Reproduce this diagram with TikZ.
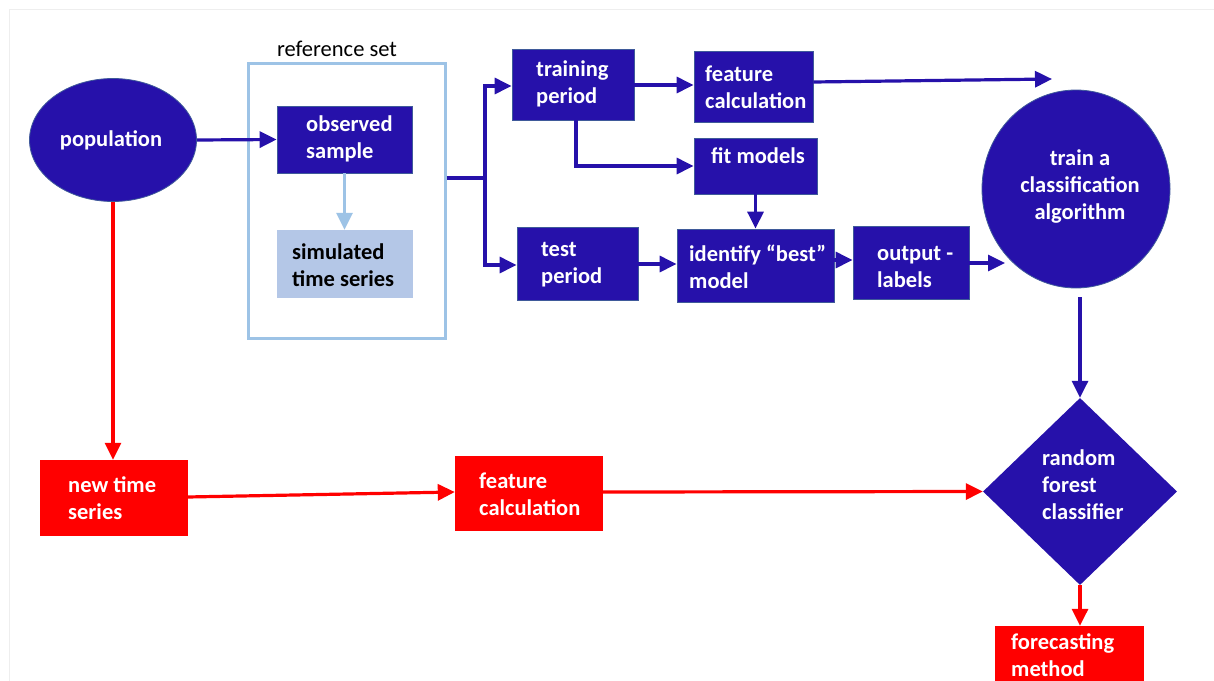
\documentclass[tikz,border=0pt]{standalone}
\usepackage{fontspec}
\setmainfont{Carlito}
\usetikzlibrary{arrows.meta,shapes.geometric}
\definecolor{dblue}{HTML}{2611AA}
\definecolor{dbord}{HTML}{3F5A9A}
\definecolor{lbluestroke}{HTML}{9DC3E6}
\definecolor{lbluefill}{HTML}{B4C7E7}
\definecolor{rred}{HTML}{FF0000}
\definecolor{frame}{HTML}{EEEEEE}
\tikzset{
  bluebox/.style={draw=dbord,line width=0.8pt,fill=dblue,rectangle,inner sep=0pt},
  redbox/.style={draw=rred,fill=rred,rectangle,inner sep=0pt},
  boxtext/.style={text=white,font=\bfseries\fontsize{22.5}{27}\selectfont,align=left,inner sep=0pt},
  darktext/.style={text=black,font=\bfseries\fontsize{22.5}{27}\selectfont,align=left,inner sep=0pt},
  bconn/.style={draw=dblue,line width=3.2pt,-{Triangle[length=17pt,width=16pt]}},
  bline/.style={draw=dblue,line width=3.2pt},
  lconn/.style={draw=lbluestroke,line width=3.2pt,-{Triangle[length=17pt,width=16pt]}},
  rconn/.style={draw=rred,line width=3.2pt,-{Triangle[length=17pt,width=16pt]}}
}
\begin{document}
\begin{tikzpicture}[x=1pt,y=-1pt]
\useasboundingbox (0,0) rectangle (1214,680);
\clip (0,0) rectangle (1214,680);
\fill[white] (0,0) rectangle (1214,680);
\draw[frame,line width=1pt] (9.5,690) -- (9.5,9.5) -- (1220,9.5);

% reference set container
\node[draw=lbluestroke,line width=3pt,minimum width=197,minimum height=275,inner sep=0pt] (ref) at (346.5,200.5) {};
\node[text=black,font=\fontsize{22.5}{27}\selectfont,inner sep=0pt] (refT) at (337,49) {reference set};

% population
\node[ellipse,fill=dblue,draw=dbord,line width=0.8pt,minimum width=167,minimum height=123,inner sep=0pt] (pop) at (113,140) {};
\node[boxtext] (popT) at (111,140) {population};

% observed sample
\node[bluebox,minimum width=135,minimum height=67] (obs) at (344.5,139.5) {};
\node[boxtext,anchor=west] (obsT) at (306,139) {observed\\sample};

% simulated time series
\node[draw=lbluefill,fill=lbluefill,rectangle,inner sep=0pt,minimum width=135,minimum height=67] (sim) at (344.5,263.5) {};
\node[darktext,anchor=west] (simT) at (292,265) {simulated\\time series};

% training period
\node[bluebox,minimum width=122,minimum height=71] (train) at (573,84.5) {};
\node[boxtext,anchor=west] (trainT) at (536,83.5) {training\\period};

% feature calculation (top)
\node[bluebox,minimum width=119,minimum height=71] (feat) at (753.5,86.5) {};
\node[boxtext,anchor=west] (featT) at (705,87) {feature\\calculation};

% fit models
\node[bluebox,minimum width=123,minimum height=56] (fit) at (755.5,166) {};
\node[boxtext,anchor=west] (fitT) at (711,156) {fit models};

% test period
\node[bluebox,minimum width=121,minimum height=73] (test) at (577.5,263.5) {};
\node[boxtext,anchor=west] (testT) at (541,264.5) {test\\period};

% identify best model
\node[bluebox,minimum width=157,minimum height=73] (best) at (755.5,265.5) {};
\node[boxtext,anchor=west] (bestT) at (689,266.5) {identify “best”\\model};

% output labels
\node[bluebox,minimum width=116,minimum height=73] (out) at (911,262.5) {};
\node[boxtext,anchor=west] (outT) at (877,267) {output -\\labels};

% train classification circle
\node[ellipse,fill=dblue,draw=dbord,line width=0.8pt,minimum width=188,minimum height=198,inner sep=0pt] (clf) at (1076,189) {};
\node[boxtext,align=center] (clfT) at (1080,187) {train a\\classification\\algorithm};

% random forest diamond
\node[diamond,fill=dblue,minimum width=194,minimum height=187,inner sep=0pt] (rf) at (1080,491.5) {};
\node[boxtext,anchor=west] (rfT) at (1042,485) {random\\forest\\classifier};

% new time series
\node[redbox,minimum width=147,minimum height=75] (new) at (113.5,497.5) {};
\node[boxtext,anchor=west] (newT) at (68,498.5) {new time\\series};

% feature calculation (red)
\node[redbox,minimum width=147,minimum height=74] (featr) at (528.5,493) {};
\node[boxtext,anchor=west] (featrT) at (479,494.5) {feature\\calculation};

% forecasting method
\node[redbox,minimum width=148,minimum height=80] (fc) at (1069,666) {};
\node[boxtext,anchor=west] (fcT) at (1011,655) {forecasting\\method};

% coordinates for connectors
\coordinate (split) at (485,178);
\coordinate (featEnd) at (1052,79);
\coordinate (tdrop) at (576,166);
\coordinate (outEnd) at (1005,263);
\coordinate (clfDrop) at (1080,297);

% blue connectors
\draw[bconn] (pop.east) -- (obs.west);
\draw[lconn] (obs.south) -- (sim.north);
\draw[bline] (ref.east |- split) -- (split);
\draw[bconn] (split) |- (train.west |- 0,86);
\draw[bconn] (split) |- (test.west |- 0,265);
\draw[bconn] (train.east |- 0,85) -- (feat.west |- 0,85);
\draw[bconn] (feat.east |- 0,82) -- (featEnd);
\draw[bconn] (train.south -| tdrop) -- (tdrop) -- (fit.west |- tdrop);
\draw[bconn] (fit.south) -- (best.north -| fit.south);
\draw[bconn] (test.east |- 0,264) -- (best.west |- 0,264);
\draw[bconn] (best.east |- 0,260) -- (out.west |- 0,260);
\draw[bconn] (out.east |- outEnd) -- (outEnd);
\draw[bconn] (clfDrop) -- (rf.north);

% red connectors
\draw[rconn] (pop.south) -- (new.north -| pop.south);
\draw[rconn] (new.east |- 0,497) -- (featr.west |- 0,492);
\draw[rconn] (featr.east |- 0,492) -- (rf.west);
\draw[rconn] (rf.south) -- (fc.north -| rf.south);
\end{tikzpicture}
\end{document}
